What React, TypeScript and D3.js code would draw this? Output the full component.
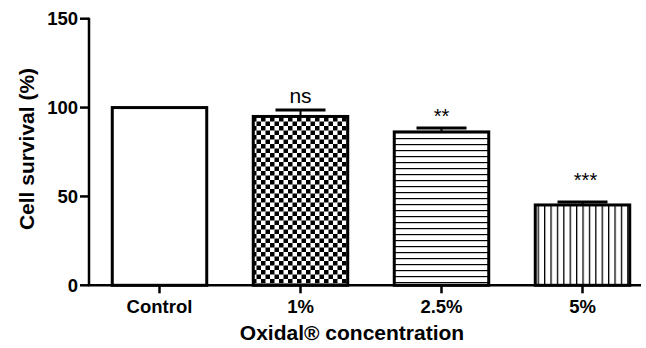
import * as d3 from 'd3';

const categories = ['Control', '1%', '2.5%', '5%'];
const values = [100, 95, 86.3, 45.2];
const errors = [0, 3.7, 2.2, 1.7];
const marks = ['', 'ns', '**', '***'];
const patterns = ['none', 'checker', 'hlines', 'vlines'];
const yTicks = [0, 50, 100, 150];

const W = 646;
const H = 348;
const font = 'Liberation Sans, Arial, sans-serif';
// gap (px) between the error cap and the baseline of each significance mark
const markGap = [0, 6.5, 4.7, 14.6];

const App = () => {
  const x = d3
    .scaleBand()
    .domain(categories)
    .range([89, 653])
    .paddingInner(0.33)
    .paddingOuter(0.165);
  const y = d3.scaleLinear().domain([0, 150]).range([285.3, 18.7]);
  const bw = x.bandwidth();

  const fillFor = (p: string) => (p === 'none' ? 'white' : `url(#${p})`);

  return (
    <svg width={W} height={H} style={{ position: 'absolute', left: 0, top: 0 }}>
      <defs>
        <pattern id="checker" width="9" height="9" patternUnits="userSpaceOnUse">
          <rect width="9" height="9" fill="white" />
          <rect width="4.5" height="4.5" fill="black" />
          <rect x="4.5" y="4.5" width="4.5" height="4.5" fill="black" />
        </pattern>
        <pattern id="hlines" width="6" height="6" patternUnits="userSpaceOnUse">
          <rect width="6" height="6" fill="white" />
          <rect y="0" width="6" height="1.2" fill="black" />
        </pattern>
        <pattern id="vlines" width="6.4" height="6.4" patternUnits="userSpaceOnUse">
          <rect width="6.4" height="6.4" fill="white" />
          <rect x="0" width="1.3" height="6.4" fill="black" />
        </pattern>
      </defs>
      <rect width={W} height={H} fill="white" />

      {categories.map((c, i) => {
        const x0 = x(c)!;
        const cx = x0 + bw / 2;
        const top = y(values[i]);
        const capY = y(values[i] + errors[i]);
        return (
          <g key={c}>
            <rect
              x={x0}
              y={top}
              width={bw}
              height={y(0) - top}
              fill={fillFor(patterns[i])}
              stroke="black"
              strokeWidth={3}
            />
            {errors[i] > 0 && (
              <g stroke="black">
                <line x1={cx} x2={cx} y1={top} y2={capY} strokeWidth={2} />
                <line x1={cx - 25} x2={cx + 25} y1={capY} y2={capY} strokeWidth={3} />
              </g>
            )}
            {marks[i] && (
              <text
                x={cx + (i === 3 ? 3 : 0)}
                y={capY - markGap[i]}
                textAnchor="middle"
                fontFamily={font}
                fontSize={marks[i] === 'ns' ? 21 : 20}
              >
                {marks[i]}
              </text>
            )}
          </g>
        );
      })}

      {/* y axis */}
      <line x1={89} x2={89} y1={y(150) - 1} y2={y(0)} stroke="black" strokeWidth={2.5} />
      {yTicks.map(t => (
        <g key={t}>
          <line x1={80} x2={89} y1={y(t)} y2={y(t)} stroke="black" strokeWidth={2.5} />
          <text
            x={78}
            y={y(t) + 6.5}
            textAnchor="end"
            fontFamily={font}
            fontWeight="bold"
            fontSize={18.5}
          >
            {t}
          </text>
        </g>
      ))}

      {/* x axis */}
      <line x1={88} x2={641} y1={y(0)} y2={y(0)} stroke="black" strokeWidth={2.5} />
      {categories.map(c => {
        const cx = x(c)! + bw / 2;
        return (
          <g key={c}>
            <line x1={cx} x2={cx} y1={y(0)} y2={y(0) + 8} stroke="black" strokeWidth={2.5} />
            <text
              x={cx}
              y={313}
              textAnchor="middle"
              fontFamily={font}
              fontWeight="bold"
              fontSize={18.5}
            >
              {c}
            </text>
          </g>
        );
      })}

      <text
        x={352}
        y={340}
        textAnchor="middle"
        fontFamily={font}
        fontWeight="bold"
        fontSize={21}
      >
        Oxidal® concentration
      </text>
      <text
        transform={`translate(34, 149) rotate(-90)`}
        textAnchor="middle"
        fontFamily={font}
        fontWeight="bold"
        fontSize={21}
      >
        Cell survival (%)
      </text>
    </svg>
  );
};

export default App;
